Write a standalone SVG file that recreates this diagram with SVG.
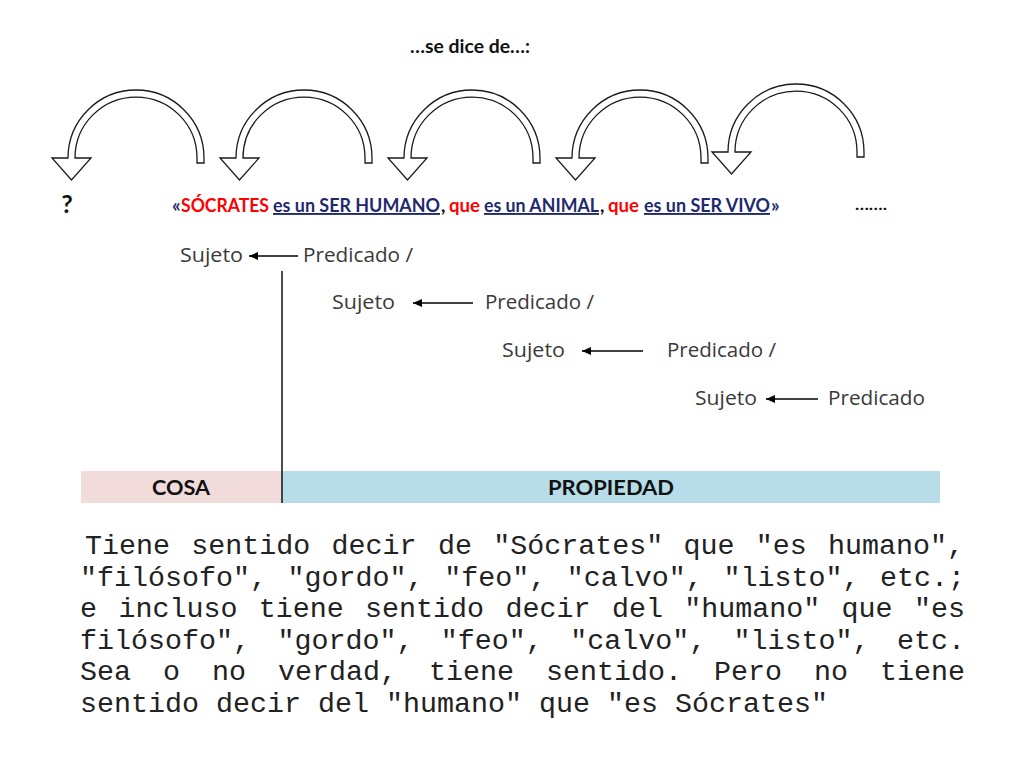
<svg xmlns="http://www.w3.org/2000/svg" width="1024" height="768" viewBox="0 0 1024 768">
<defs>
<style>
.b{font-family:Lato,"Liberation Sans",sans-serif;font-weight:bold}
.sp{font-family:"Open Sans","DejaVu Sans",sans-serif;font-size:20px;fill:#3a3a3a}
.mono{font-family:"Liberation Mono","Courier New",monospace;font-size:28.33px;fill:#222}
.arc{fill:#fff;stroke:#1a1a1a;stroke-width:1.3;stroke-linejoin:miter}
.navy{fill:#1f2a6e;text-decoration:underline}
.red{fill:#ff0000}
.conn{stroke:#000;stroke-width:1.4;fill:none}
</style>
<marker id="ah" markerUnits="userSpaceOnUse" markerWidth="10" markerHeight="8" refX="9" refY="4" orient="auto"><path d="M0,0 L9,4 L0,8 z" fill="#000"/></marker>
<path id="carrow" d="M204 163 L204 158 A68 68 0 0 0 68 158 L52 158 L71.5 180 L91 158 L75 158 A61 61 0 0 1 197 158 L197 163 Z"/>
</defs>
<rect width="1024" height="768" fill="#fff"/>

<g id="title"><text class="b" x="470" y="53" font-size="18" text-anchor="middle" textLength="120" lengthAdjust="spacingAndGlyphs" fill="#111">…se dice de…:</text></g>

<g id="curved-arrows">
<use href="#carrow" class="arc"/>
<use href="#carrow" class="arc" transform="translate(168,0)"/>
<use href="#carrow" class="arc" transform="translate(336,0)"/>
<use href="#carrow" class="arc" transform="translate(504,0)"/>
<use href="#carrow" class="arc" transform="translate(660,-6)"/>
</g>

<g id="question"><text class="b" x="67" y="213" font-size="25" text-anchor="middle" fill="#111">?</text></g>

<g id="sentence"><text class="b" font-size="19" y="212" fill="#111"><tspan x="172" fill="#1f2a6e">«</tspan><tspan x="181" class="red" textLength="88" lengthAdjust="spacingAndGlyphs">SÓCRATES</tspan><tspan x="273" class="navy" textLength="167" lengthAdjust="spacingAndGlyphs">es un SER HUMANO</tspan><tspan x="441">,</tspan><tspan x="449" class="red" textLength="31" lengthAdjust="spacingAndGlyphs">que</tspan><tspan x="484" class="navy" textLength="115" lengthAdjust="spacingAndGlyphs">es un ANIMAL</tspan><tspan x="600">,</tspan><tspan x="608" class="red" textLength="31" lengthAdjust="spacingAndGlyphs">que</tspan><tspan x="644" class="navy" textLength="126" lengthAdjust="spacingAndGlyphs">es un SER VIVO</tspan><tspan x="771" fill="#1f2a6e">»</tspan></text></g>

<g id="dots"><text class="b" x="855" y="210" font-size="16" textLength="32" lengthAdjust="spacingAndGlyphs" fill="#111">…….</text></g>

<g id="row1">
<text class="sp" x="180" y="262" textLength="63" lengthAdjust="spacingAndGlyphs">Sujeto</text>
<text class="sp" x="303" y="262" textLength="110" lengthAdjust="spacingAndGlyphs">Predicado /</text>
</g>
<g id="row2">
<text class="sp" x="332" y="309" textLength="63" lengthAdjust="spacingAndGlyphs">Sujeto</text>
<text class="sp" x="485" y="309" textLength="109" lengthAdjust="spacingAndGlyphs">Predicado /</text>
</g>
<g id="row3">
<text class="sp" x="502" y="357" textLength="63" lengthAdjust="spacingAndGlyphs">Sujeto</text>
<text class="sp" x="667" y="357" textLength="109" lengthAdjust="spacingAndGlyphs">Predicado /</text>
</g>
<g id="row4">
<text class="sp" x="695" y="405" textLength="62" lengthAdjust="spacingAndGlyphs">Sujeto</text>
<text class="sp" x="828" y="405" textLength="97" lengthAdjust="spacingAndGlyphs">Predicado</text>
</g>

<g id="connectors">
<line class="conn" x1="298" y1="256" x2="249" y2="256" marker-end="url(#ah)"/>
<line class="conn" x1="473" y1="303" x2="413" y2="303" marker-end="url(#ah)"/>
<line class="conn" x1="643" y1="351" x2="582" y2="351" marker-end="url(#ah)"/>
<line class="conn" x1="818" y1="399" x2="766" y2="399" marker-end="url(#ah)"/>
</g>

<g id="cosa">
<rect x="81" y="471" width="201" height="32" fill="#f2dcdb"/>
<text class="b" x="181" y="495" font-size="20" text-anchor="middle" textLength="58" lengthAdjust="spacingAndGlyphs" fill="#111">COSA</text>
</g>
<g id="propiedad">
<rect x="282" y="471" width="658" height="32" fill="#b7dde8"/>
<text class="b" x="611" y="495" font-size="20" text-anchor="middle" textLength="126" lengthAdjust="spacingAndGlyphs" fill="#111">PROPIEDAD</text>
</g>
<g id="divider"><line x1="282" y1="271" x2="282" y2="503" stroke="#000" stroke-width="1.4"/></g>

<g id="paragraph" class="mono">
<text y="554"><tspan x="85">Tiene</tspan><tspan x="191.3">sentido</tspan><tspan x="331.6">decir</tspan><tspan x="437.9">de</tspan><tspan x="493.2">"Sócrates"</tspan><tspan x="683.5">que</tspan><tspan x="755.8">"es</tspan><tspan x="828.1">humano",</tspan></text>
<text y="585.5"><tspan x="80">"filósofo",</tspan><tspan x="287.6">"gordo",</tspan><tspan x="444.2">"feo",</tspan><tspan x="566.8">"calvo",</tspan><tspan x="723.4">"listo",</tspan><tspan x="880">etc.;</tspan></text>
<text y="617"><tspan x="80">e</tspan><tspan x="118.4">incluso</tspan><tspan x="258.75">tiene</tspan><tspan x="365.1">sentido</tspan><tspan x="505.5">decir</tspan><tspan x="611.9">del</tspan><tspan x="684.25">"humano"</tspan><tspan x="841.6">que</tspan><tspan x="914">"es</tspan></text>
<text y="648.5"><tspan x="80">filósofo",</tspan><tspan x="277.4">"gordo",</tspan><tspan x="440.8">"feo",</tspan><tspan x="570.2">"calvo",</tspan><tspan x="733.6">"listo",</tspan><tspan x="897">etc.</tspan></text>
<text y="680"><tspan x="80">Sea</tspan><tspan x="163">o</tspan><tspan x="212">no</tspan><tspan x="278">verdad,</tspan><tspan x="429">tiene</tspan><tspan x="546">sentido.</tspan><tspan x="714">Pero</tspan><tspan x="814">no</tspan><tspan x="880">tiene</tspan></text>
<text y="711.5" x="80" xml:space="preserve">sentido decir del "humano" que "es Sócrates"</text>
</g>
</svg>
